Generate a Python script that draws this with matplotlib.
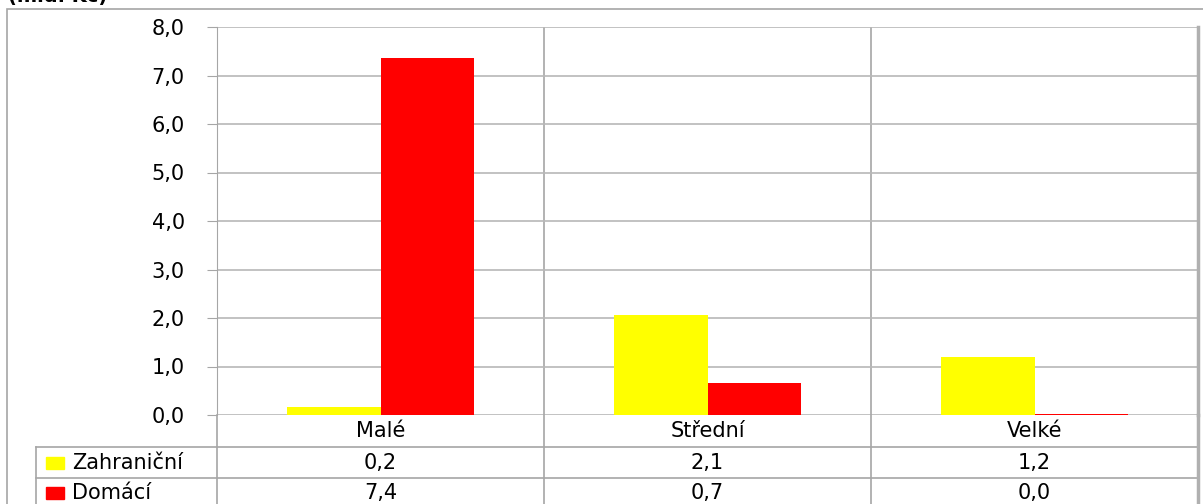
import numpy as np
import matplotlib.pyplot as plt
from matplotlib.lines import Line2D
from matplotlib.patches import Rectangle

kategorie = ['Malé', 'Střední', 'Velké']
serie = ['Zahraniční', 'Domácí']
zahranicni = [0.16, 2.07, 1.2]
domaci = [7.36, 0.66, 0.03]
barvy = ['#ffff00', '#ff0000']
yticks = np.arange(0, 9, 1)

W, H = 1203, 504
fig = plt.figure(figsize=(W / 100, H / 100), dpi=100)
plt.rcParams['font.family'] = ['DejaVu Sans']
fs = 15

def fx(px):
    return px / W

def fy(py):
    return 1 - py / H

grid_c = '#a6a6a6'

# vnejsi ramecek grafu
fig.patches.append(Rectangle((fx(7), fy(520)), fx(1215) - fx(7), fy(9) - fy(520),
                             transform=fig.transFigure, fill=False, edgecolor=grid_c, lw=1.2))
fig.text(fx(8), fy(6), '(mld. Kč)', fontsize=14, fontweight='bold', ha='left', va='bottom')

left, right, top, bottom = 217, 1198, 27, 415
ax = fig.add_axes([fx(left), fy(bottom), fx(right) - fx(left), fy(top) - fy(bottom)])

x = np.arange(len(kategorie))
w = 0.285
ax.bar(x - w / 2, zahranicni, w, color=barvy[0], zorder=3)
ax.bar(x + w / 2, domaci, w, color=barvy[1], zorder=3)

ax.set_xlim(-0.5, len(kategorie) - 0.5)
ax.set_ylim(0, 8)
ax.set_yticks(yticks)
ax.set_yticklabels([f'{v:.1f}'.replace('.', ',') for v in yticks], fontsize=fs)
ax.tick_params(axis='y', length=7.2, color=grid_c, pad=16)
ax.set_xticks([])
ax.yaxis.grid(True, color='#b8b8b8', lw=1.2, zorder=0)
for b in np.arange(0.5, len(kategorie) - 0.5, 1):
    ax.axvline(b, color=grid_c, lw=1.2, zorder=1)
for s in ['top', 'bottom']:
    ax.spines[s].set_visible(False)
ax.spines['left'].set_color(grid_c)
ax.spines['right'].set_color('#b0b0b0')
ax.spines['right'].set_linewidth(2.5)

# tabulka dat pod grafem
col_x = [left + i * (right - left) / len(kategorie) for i in range(len(kategorie) + 1)]

def hline(y, x0, x1):
    fig.add_artist(Line2D([fx(x0), fx(x1)], [fy(y), fy(y)], color=grid_c, lw=1.2))

def vline(xp, y0, y1, lw=1.2, c=grid_c):
    fig.add_artist(Line2D([fx(xp), fx(xp)], [fy(y0), fy(y1)], color=c, lw=lw))

hline(447, 36, right)
hline(478, 36, right)
for xp in col_x[:-1]:
    vline(xp, 415, 520)
vline(right, 415, 520, lw=2.5, c='#b0b0b0')
vline(36, 447, 520)

for i, k in enumerate(kategorie):
    fig.text(fx((col_x[i] + col_x[i + 1]) / 2), fy(431), k, fontsize=fs, ha='center', va='center')

for r, (nazev, vals) in enumerate(zip(serie, [zahranicni, domaci])):
    yc = [463, 493][r]
    fig.patches.append(Rectangle((fx(46), fy(yc + 6)), fx(64) - fx(46), fy(yc - 6) - fy(yc + 6),
                                 transform=fig.transFigure, color=barvy[r]))
    fig.text(fx(72), fy(yc), nazev, fontsize=fs, ha='left', va='center')
    for i, v in enumerate(vals):
        fig.text(fx((col_x[i] + col_x[i + 1]) / 2), fy(yc), f'{v:.1f}'.replace('.', ','),
                 fontsize=fs, ha='center', va='center')

fig.savefig('out.png', dpi=100)
